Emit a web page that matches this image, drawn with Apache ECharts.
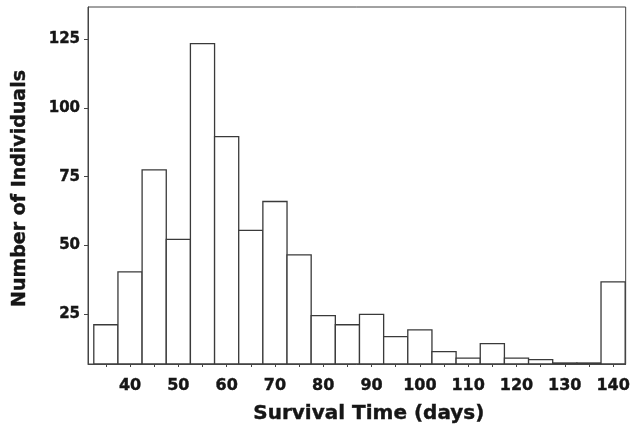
<!DOCTYPE html>
<html>
<head>
<meta charset="utf-8">
<script src="https://cdn.jsdelivr.net/npm/echarts@6/dist/echarts.min.js"></script>
<style>
html,body{margin:0;padding:0;background:#fff;}
#chart{width:633px;height:432px;}
</style>
</head>
<body>
<div id="chart"></div>
<script>
// Bin centres (days), bin width 5 days
const binCenters = [35, 40, 45, 50, 55, 60, 65, 70, 75, 80, 85, 90, 95, 100, 105, 110, 115, 120, 125, 130, 135, 140];
const counts = [21.2, 40.4, 77.5, 52.2, 123.4, 89.6, 55.5, 66, 46.6, 24.5, 21.2, 25, 16.9, 19.3, 11.4, 9.1, 14.3, 9.1, 8.5, 7.3, 7.3, 36.8];
const binWidth = 5;
const xTickValues = [35, 40, 45, 50, 55, 60, 65, 70, 75, 80, 85, 90, 95, 100, 105, 110, 115, 120, 125, 130, 135, 140];
const xLabelValues = [40, 50, 60, 70, 80, 90, 100, 110, 120, 130, 140];
const yTickValues = [25, 50, 75, 100, 125];
const xMin = 31.3, xMax = 142.6;
const yMin = 6.93, yMax = 136.7;

const chart = echarts.init(document.getElementById('chart'), null, {renderer: 'canvas'});
const heavy = {fontFamily: 'DejaVu Sans, sans-serif', fontWeight: 'bold', color: '#161616', textBorderColor: '#161616', textBorderWidth: 0.4};

chart.setOption({
  backgroundColor: '#ffffff',
  animation: false,
  grid: {left: 88, top: 7, width: 546, height: 357, show: true, borderColor: '#444', borderWidth: 1, backgroundColor: 'transparent'},
  xAxis: {
    type: 'value', min: xMin, max: xMax,
    name: 'Survival Time (days)', nameLocation: 'middle', nameGap: 40,
    nameTextStyle: Object.assign({fontSize: 20, padding: [0, 0, 0, 24]}, heavy),
    axisLine: {show: true, lineStyle: {color: '#444', width: 1}},
    axisTick: {show: true, customValues: xTickValues, length: 3, lineStyle: {color: '#444'}},
    axisLabel: Object.assign({customValues: xLabelValues, fontSize: 16, margin: 14}, heavy),
    splitLine: {show: false}
  },
  yAxis: {
    type: 'value', min: yMin, max: yMax,
    name: 'Number of Individuals', nameLocation: 'middle', nameGap: 58,
    nameTextStyle: Object.assign({fontSize: 19, padding: [0, 6, 0, 0]}, heavy),
    axisLine: {show: true, lineStyle: {color: '#444', width: 1}},
    axisTick: {show: true, customValues: yTickValues, length: 4, lineStyle: {color: '#444'}},
    axisLabel: Object.assign({customValues: yTickValues, fontSize: 15, margin: 8}, heavy),
    splitLine: {show: false}
  },
  series: [{
    type: 'custom',
    clip: true,
    data: binCenters.map((c, i) => [c, counts[i]]),
    renderItem: function (params, api) {
      const c = api.value(0), v = api.value(1);
      const p1 = api.coord([c - binWidth / 2, v]);
      const p2 = api.coord([c + binWidth / 2, yMin]);
      return {
        type: 'rect',
        shape: {x: p1[0], y: p1[1], width: p2[0] - p1[0], height: p2[1] - p1[1]},
        style: {fill: '#ffffff', stroke: '#3a3a3a', lineWidth: 1.3}
      };
    }
  }]
});
</script>
</body>
</html>
